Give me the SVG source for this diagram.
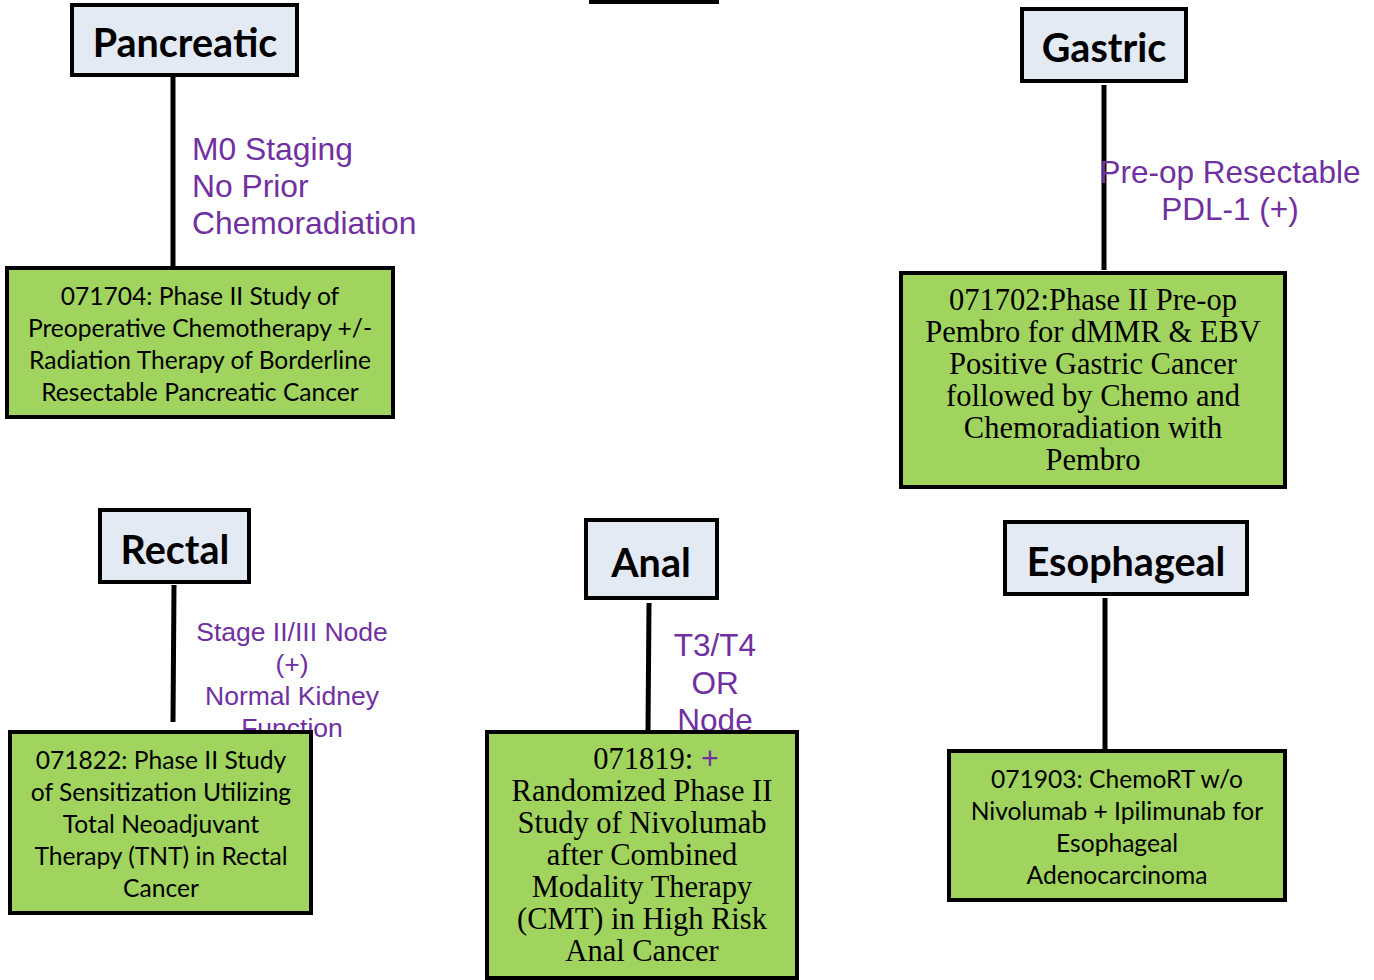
<svg xmlns="http://www.w3.org/2000/svg" width="1374" height="980" viewBox="0 0 1374 980">
<style>
.hdr{fill:#e4eaf4;stroke:#000;stroke-width:4}
.grn{fill:#a0d45f;stroke:#000;stroke-width:4}
.ht{font-family:Lato,"Liberation Sans",sans-serif;font-weight:bold;font-size:39.5px;fill:#000;text-anchor:middle}
.bt{font-family:Lato,"Liberation Sans",sans-serif;font-size:24.6px;fill:#000;text-anchor:middle}
.st{font-family:"Liberation Serif",serif;font-size:30.5px;fill:#000;text-anchor:middle}
.lb{font-family:"Liberation Sans",Arial,sans-serif;fill:#7030a0}
.ln{stroke:#000;stroke-width:5;fill:none}
</style>
<rect width="1374" height="980" fill="#fff"/>
<g id="connectors">
<line class="ln" x1="173" y1="77" x2="173" y2="268"/>
<line class="ln" x1="1104" y1="85" x2="1104" y2="270"/>
<line class="ln" x1="174" y1="585" x2="173" y2="722"/>
<line class="ln" x1="649" y1="603" x2="648" y2="731"/>
<line class="ln" x1="1105" y1="598" x2="1105" y2="750"/>
</g>
<g id="top-box"><rect x="591" y="-40" width="126" height="42" fill="#fff" stroke="#000" stroke-width="4"/></g>
<g id="pancreatic">
<rect class="hdr" x="72" y="5" width="225" height="70"/>
<text class="ht" x="185" y="57">Pancreatic</text>
</g>
<g id="label-pancreatic" class="lb" font-size="31.8">
<text x="192" y="160">M0 Staging</text>
<text x="192" y="197">No Prior</text>
<text x="192" y="234">Chemoradiation</text>
</g>
<g id="trial-071704">
<rect class="grn" x="7" y="268" width="386" height="149"/>
<text class="bt" x="200" y="305">071704: Phase II Study of</text>
<text class="bt" x="200" y="337">Preoperative Chemotherapy +/-</text>
<text class="bt" x="200" y="369">Radiation Therapy of Borderline</text>
<text class="bt" x="200" y="401">Resectable Pancreatic Cancer</text>
</g>
<g id="gastric">
<rect class="hdr" x="1022" y="9" width="164" height="72"/>
<text class="ht" x="1104" y="62">Gastric</text>
</g>
<g id="label-gastric" class="lb" font-size="31.5" text-anchor="middle">
<text x="1230" y="183">Pre-op Resectable</text>
<text x="1230" y="220">PDL-1 (+)</text>
</g>
<g id="trial-071702">
<rect class="grn" x="901" y="273" width="384" height="214"/>
<text class="st" x="1093" y="310">071702:Phase II Pre-op</text>
<text class="st" x="1093" y="342">Pembro for dMMR &amp; EBV</text>
<text class="st" x="1093" y="374">Positive Gastric Cancer</text>
<text class="st" x="1093" y="406">followed by Chemo and</text>
<text class="st" x="1093" y="438">Chemoradiation with</text>
<text class="st" x="1093" y="470">Pembro</text>
</g>
<g id="rectal">
<rect class="hdr" x="100" y="510" width="149" height="72"/>
<text class="ht" x="175" y="564">Rectal</text>
</g>
<g id="label-rectal" class="lb" font-size="26.5" text-anchor="middle">
<text x="292" y="641">Stage II/III Node</text>
<text x="292" y="673">(+)</text>
<text x="292" y="705">Normal Kidney</text>
<text x="292" y="737">Function</text>
</g>
<g id="trial-071822">
<rect class="grn" x="10" y="732" width="301" height="181"/>
<text class="bt" x="161" y="769">071822: Phase II Study</text>
<text class="bt" x="161" y="801">of Sensitization Utilizing</text>
<text class="bt" x="161" y="833">Total Neoadjuvant</text>
<text class="bt" x="161" y="865">Therapy (TNT) in Rectal</text>
<text class="bt" x="161" y="897">Cancer</text>
</g>
<g id="anal">
<rect class="hdr" x="586" y="520" width="131" height="78"/>
<text class="ht" x="651" y="577" font-size="43">Anal</text>
</g>
<g id="label-anal" class="lb" font-size="31.5" text-anchor="middle">
<text x="715" y="656">T3/T4</text>
<text x="715" y="694">OR</text>
<text x="715" y="731">Node</text>
</g>
<g id="trial-071819">
<rect class="grn" x="487" y="732" width="310" height="246"/>
<text class="st" x="656" y="769">071819: <tspan fill="#7030a0" font-family="Liberation Sans,sans-serif">+</tspan></text>
<text class="st" x="642" y="801">Randomized Phase II</text>
<text class="st" x="642" y="833">Study of Nivolumab</text>
<text class="st" x="642" y="865">after Combined</text>
<text class="st" x="642" y="897">Modality Therapy</text>
<text class="st" x="642" y="929">(CMT) in High Risk</text>
<text class="st" x="642" y="961">Anal Cancer</text>
</g>
<g id="esophageal">
<rect class="hdr" x="1005" y="522" width="242" height="72"/>
<text class="ht" x="1126" y="576">Esophageal</text>
</g>
<g id="trial-071903">
<rect class="grn" x="949" y="751" width="336" height="149"/>
<text class="bt" x="1117" y="788">071903: ChemoRT w/o</text>
<text class="bt" x="1117" y="820">Nivolumab + Ipilimunab for</text>
<text class="bt" x="1117" y="852">Esophageal</text>
<text class="bt" x="1117" y="884">Adenocarcinoma</text>
</g>
</svg>
